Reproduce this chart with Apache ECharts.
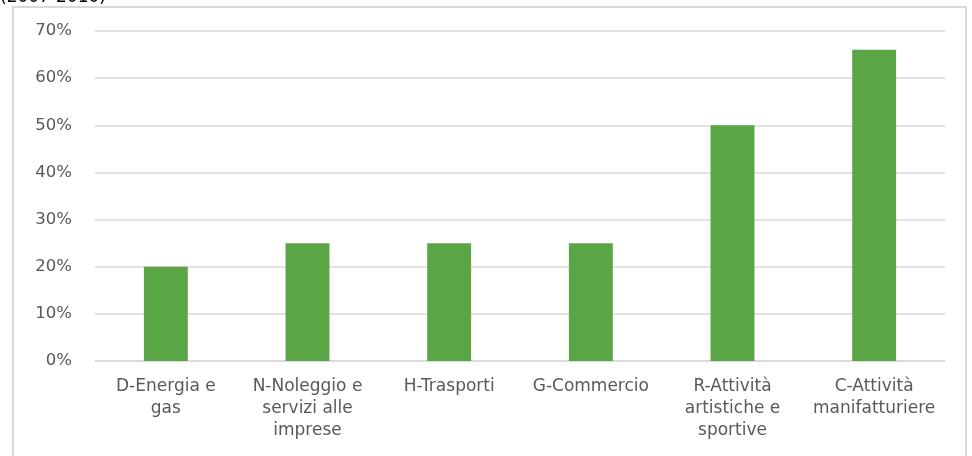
<!DOCTYPE html>
<html>
<head>
<meta charset="utf-8">
<script src="https://cdn.jsdelivr.net/npm/echarts@6/dist/echarts.min.js"></script>
<style>
  html, body { margin: 0; padding: 0; background: #ffffff; }
  #chart { width: 972px; height: 456px; }
</style>
</head>
<body>
<div id="chart"></div>
<script>
// Sectors (with manual line breaks as laid out under each bar)
const categories = [
  'D-Energia e\ngas',
  'N-Noleggio e\nservizi alle\nimprese',
  'H-Trasporti',
  'G-Commercio',
  'R-Attività\nartistiche e\nsportive',
  'C-Attività\nmanifatturiere'
];
// Share per sector, in percent
const shares = [20, 25, 25, 25, 50, 66];
// Value axis range and step, in percent
const axisMin = 0;
const axisMax = 70;
const axisStep = 10;
const periodNote = '(2007-2010)';

const chart = echarts.init(document.getElementById('chart'), null, { renderer: 'canvas' });
const labelFont = '"DejaVu Sans", "Open Sans", sans-serif';

chart.setOption({
  animation: false,
  backgroundColor: '#ffffff',
  graphic: [
    {
      type: 'rect',
      shape: { x: 13, y: 7, width: 953, height: 470 },
      style: { fill: 'none', stroke: '#d9d9d9', lineWidth: 2 },
      z: 0
    },
    {
      type: 'text',
      left: 0,
      top: -11,
      style: { text: periodNote, fill: '#000000', font: '17px ' + labelFont },
      z: 10
    }
  ],
  grid: { left: 95, right: 27, top: 31, bottom: 95, containLabel: false },
  xAxis: {
    type: 'category',
    data: categories,
    axisTick: { show: false },
    axisLine: { show: true, lineStyle: { color: '#d9d9d9', width: 1.5 } },
    axisLabel: {
      interval: 0,
      color: '#595959',
      fontFamily: labelFont,
      fontSize: 17,
      lineHeight: 22,
      margin: 15,
      align: 'center'
    }
  },
  yAxis: {
    type: 'value',
    min: axisMin,
    max: axisMax,
    interval: axisStep,
    axisLine: { show: false },
    axisTick: { show: false },
    splitLine: { lineStyle: { color: '#d9d9d9', width: 1.5 } },
    axisLabel: {
      color: '#595959',
      fontFamily: labelFont,
      fontSize: 16.5,
      margin: 23,
      formatter: v => v + '%'
    }
  },
  series: [{
    type: 'bar',
    data: shares,
    barWidth: '31%',
    itemStyle: { color: '#5aa546' }
  }]
});
</script>
</body>
</html>
